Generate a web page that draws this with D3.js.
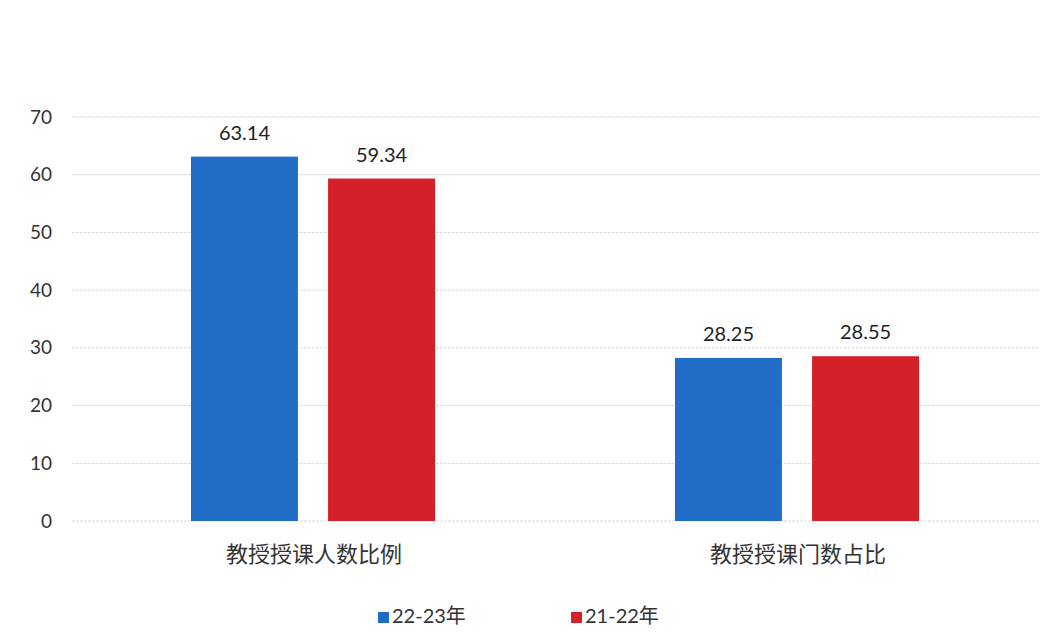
<!DOCTYPE html>
<html lang="zh">
<head>
<meta charset="utf-8">
<title>教授授课比例</title>
<script src="https://cdn.jsdelivr.net/npm/d3@7"></script>
<style>
  body { margin: 0; background: #fff; }
  text { font-family: Lato, "Noto Sans CJK SC", sans-serif; fill: #222; }
</style>
</head>
<body>
<script>
// data
var categories = ["教授授课人数比例", "教授授课门数占比"];
var seriesNames = ["22-23年", "21-22年"];
var values2223 = [63.14, 28.25];
var values2122 = [59.34, 28.55];
var yTicks = [0, 10, 20, 30, 40, 50, 60, 70];
var colors = ["#1f6dc6", "#d42028"];

var w = 1056, h = 643;
var margin = {top: 117, right: 16, bottom: 122, left: 72};
var iw = w - margin.left - margin.right;
var ih = h - margin.top - margin.bottom;

var svg = d3.select("body").append("svg")
    .attr("width", w)
    .attr("height", h);

var g = svg.append("g")
    .attr("transform", "translate(" + margin.left + "," + margin.top + ")");

var x0 = d3.scaleBand()
    .domain(categories)
    .range([0, iw])
    .paddingInner(0)
    .paddingOuter(0);

var x1 = d3.scaleBand()
    .domain(seriesNames)
    .range([119, x0.bandwidth() - 121])
    .paddingInner(0.22);

var y = d3.scaleLinear()
    .domain([0, 70])
    .range([ih, 0]);

// gridlines
g.append("g")
  .selectAll("line")
  .data(yTicks)
  .enter()
  .append("line")
  .attr("x1", 0)
  .attr("x2", iw)
  .attr("y1", function(d) { return y(d); })
  .attr("y2", function(d) { return y(d); })
  .attr("stroke", "#dcdcdc")
  .attr("stroke-width", 1)
  .attr("stroke-dasharray", "3,1");

// y axis labels
var yAxis = g.append("g")
  .call(d3.axisLeft(y).tickValues(yTicks).tickSize(0).tickPadding(20));
yAxis.select(".domain").remove();
yAxis.selectAll("text")
  .style("font-size", "19px")
  .style("fill", "#333");

// bars
var rows = categories.map(function(c, i) {
  return [
    {cat: c, name: seriesNames[0], v: values2223[i], color: colors[0]},
    {cat: c, name: seriesNames[1], v: values2122[i], color: colors[1]}
  ];
});

var groups = g.selectAll(".grp")
  .data(rows)
  .enter()
  .append("g")
  .attr("class", "grp")
  .attr("transform", function(d) { return "translate(" + x0(d[0].cat) + ",0)"; });

groups.selectAll("rect")
  .data(function(d) { return d; })
  .enter()
  .append("rect")
  .attr("x", function(d) { return x1(d.name); })
  .attr("width", x1.bandwidth())
  .attr("y", function(d) { return y(d.v); })
  .attr("height", function(d) { return ih - y(d.v); })
  .attr("fill", function(d) { return d.color; });

groups.selectAll("text.val")
  .data(function(d) { return d; })
  .enter()
  .append("text")
  .attr("class", "val")
  .attr("text-anchor", "middle")
  .attr("x", function(d) { return x1(d.name) + x1.bandwidth() / 2; })
  .attr("y", function(d) { return y(d.v) - 17; })
  .style("font-size", "20px")
  .text(function(d) { return d.v.toFixed(2); });

// category labels
g.selectAll("text.cat")
  .data(categories)
  .enter()
  .append("text")
  .attr("class", "cat")
  .attr("text-anchor", "middle")
  .attr("x", function(d) { return x0(d) + x0.bandwidth() / 2; })
  .attr("y", ih + 41)
  .style("font-size", "22px")
  .style("fill", "#333")
  .text(function(d) { return d; });

// legend
var legendX = [378, 571];
var legend = svg.selectAll(".leg")
  .data(seriesNames)
  .enter()
  .append("g")
  .attr("class", "leg")
  .attr("transform", function(d, i) { return "translate(" + legendX[i] + ",612)"; });

legend.append("rect")
  .attr("width", 11)
  .attr("height", 11)
  .attr("fill", function(d, i) { return colors[i]; });

legend.append("text")
  .attr("x", 14)
  .attr("y", 11)
  .style("font-size", "20px")
  .style("fill", "#333")
  .text(function(d) { return d; });
</script>
</body>
</html>
